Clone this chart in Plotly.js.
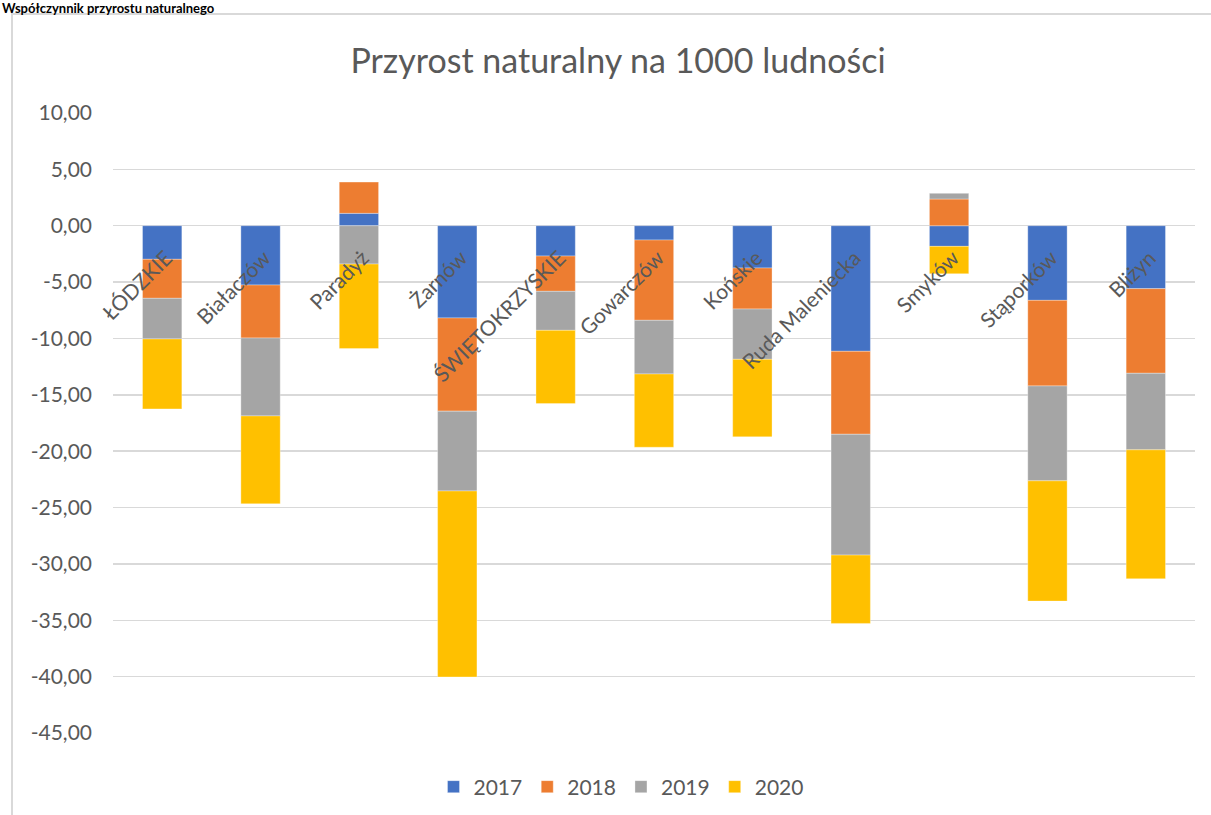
<!DOCTYPE html>
<html>
<head>
<meta charset="utf-8">
<script src="https://cdn.plot.ly/plotly-3.0.1.min.js"></script>
<style>
  html, body { margin: 0; padding: 0; background: #ffffff; }
  #chart { width: 1211px; height: 815px; }
</style>
</head>
<body>
<div id="chart"></div>
<script>
// ---- data ----
const categories = ['ŁÓDZKIE', 'Białaczów', 'Paradyż', 'Żarnów', 'ŚWIĘTOKRZYSKIE', 'Gowarczów', 'Końskie', 'Ruda Maleniecka', 'Smyków', 'Stąporków', 'Bliżyn'];
const seriesNames = ['2017', '2018', '2019', '2020'];
const v2017 = [-2.98, -5.26, 1.10, -8.18, -2.69, -1.27, -3.75, -11.14, -1.83, -6.62, -5.58];
const v2018 = [-3.46, -4.70, 2.77, -8.27, -3.13, -7.12, -3.64, -7.36, 2.37, -7.59, -7.51];
const v2019 = [-3.60, -6.91, -3.40, -7.08, -3.46, -4.76, -4.46, -10.72, 0.50, -8.42, -6.79];
const v2020 = [-6.21, -7.80, -7.50, -16.50, -6.50, -6.50, -6.88, -6.06, -2.43, -10.67, -11.44];
const yTickVals = [10, 5, 0, -5, -10, -15, -20, -25, -30, -35, -40, -45];
const yTickText = ['10,00', '5,00', '0,00', '-5,00', '-10,00', '-15,00', '-20,00', '-25,00', '-30,00', '-35,00', '-40,00', '-45,00'];
const chartTitle = 'Przyrost naturalny na 1000 ludności';
const headerText = 'Współczynnik przyrostu naturalnego';

// ---- styles ----
const colors = ['#4472C4', '#ED7D31', '#A5A5A5', '#FFC000'];
const values = [v2017, v2018, v2019, v2020];
const FONT = 'Lato, "Open Sans", "DejaVu Sans", sans-serif';
const TXT = '#595959';

const W = 1211, H = 815;
const L = 113, R = 16, T = 113, B = 82;
const pw = W - L - R, ph = H - T - B;
const px2x = p => (p - L) / pw;
const px2y = p => (H - B - p) / ph;

const traces = seriesNames.map((name, i) => ({
  type: 'bar',
  name: name,
  x: categories,
  y: values[i],
  marker: { color: colors[i], line: { color: 'rgba(255,255,255,0.55)', width: 0.6 } },
  hoverinfo: 'skip'
}));

const yMin = -45, yMax = 10;

const layout = {
  width: W, height: H,
  margin: { l: L, r: R, t: T, b: B, autoexpand: false },
  paper_bgcolor: '#ffffff',
  plot_bgcolor: '#ffffff',
  barmode: 'relative',
  bargap: 0.6,
  font: { family: FONT, color: TXT, size: 21 },
  title: {
    text: chartTitle,
    font: { family: FONT, size: 34, color: TXT },
    xref: 'paper', x: px2x(618), xanchor: 'center',
    yref: 'container', y: 1 - 61 / H, yanchor: 'middle'
  },
  xaxis: {
    type: 'category',
    anchor: 'free',
    position: (0 - yMin) / (yMax - yMin),
    showline: false,
    showgrid: false,
    zeroline: false,
    ticks: '',
    tickangle: -45,
    tickfont: { family: FONT, size: 21, color: TXT },
    ticklabelstandoff: 15,
    ticklabelshift: 4
  },
  yaxis: {
    range: [yMin, yMax],
    tickmode: 'array',
    tickvals: yTickVals,
    ticktext: yTickText,
    showgrid: true,
    gridcolor: '#d9d9d9',
    gridwidth: 1.5,
    zeroline: false,
    showline: false,
    ticks: '',
    tickfont: { family: FONT, size: 21, color: TXT },
    ticklabelstandoff: 20
  },
  showlegend: true,
  legend: {
    orientation: 'h',
    traceorder: 'normal',
    x: px2x(621), xanchor: 'center',
    y: px2y(787), yanchor: 'middle',
    font: { family: FONT, size: 21, color: TXT },
    itemwidth: 30,
    bgcolor: 'rgba(0,0,0,0)'
  },
  shapes: [{
    type: 'rect', xref: 'paper', yref: 'paper', layer: 'below',
    x0: px2x(12), x1: px2x(1240), y0: px2y(840), y1: px2y(14),
    line: { color: '#d9d9d9', width: 2 },
    fillcolor: 'rgba(0,0,0,0)'
  }],
  annotations: [{
    text: '<b>' + headerText + '</b>',
    xref: 'paper', yref: 'paper',
    x: px2x(0), xanchor: 'left',
    y: px2y(0), yanchor: 'top',
    yshift: 2,
    showarrow: false,
    font: { family: FONT, size: 13, color: '#000000' }
  }]
};

Plotly.newPlot('chart', traces, layout, { staticPlot: true, displayModeBar: false });
</script>
</body>
</html>
